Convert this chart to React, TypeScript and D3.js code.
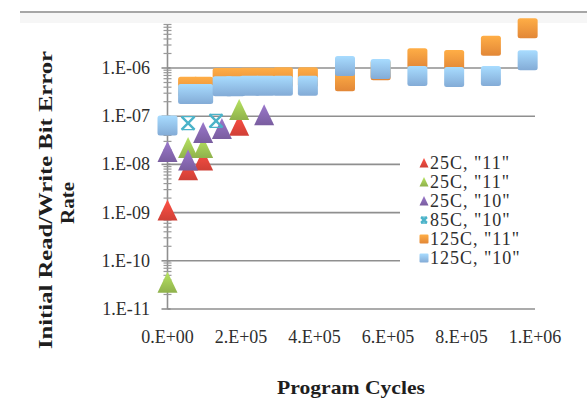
import React from "react";
import * as d3 from "d3";

// ---- data ----
const seriesNames = ['25C, "11"', '25C, "11"', '25C, "10"', '85C, "10"', '125C, "11"', '125C, "10"'];
const seriesColors = ["#e2453b", "#9cc253", "#8466ae", "#4bb3c9", "#f7943c", "#8fbbea"];
const seriesShapes = ["triangle", "triangle", "triangle", "x", "square", "square"];

const red25_11: [number, number][] = [[0, 1.1e-9], [5.6e4, 7.6e-9], [9.7e4, 1.2e-8], [1.95e5, 6.3e-8]];
const green25_11: [number, number][] = [[0, 3.5e-11], [5.6e4, 2.2e-8], [9.7e4, 2.2e-8], [1.95e5, 1.35e-7]];
const purple25_10: [number, number][] = [[0, 1.8e-8], [5.6e4, 1.2e-8], [9.7e4, 4.5e-8], [1.48e5, 5.4e-8], [2.63e5, 1.05e-7]];
const cyan85_10: [number, number][] = [[5.6e4, 7.2e-8], [1.32e5, 8.0e-8]];
const orange125_11: [number, number][] = [
  [5.6e4, 4.1e-7], [9.7e4, 4.1e-7], [1.5e5, 6.2e-7], [1.84e5, 6.2e-7], [2.24e5, 6.3e-7], [2.65e5, 6.3e-7],
  [3.14e5, 6.4e-7], [3.82e5, 6.4e-7], [4.83e5, 5.3e-7], [5.8e5, 9.0e-7], [6.8e5, 1.6e-6], [7.8e5, 1.47e-6],
  [8.8e5, 2.9e-6], [9.8e5, 6.7e-6],
];
const blue125_10: [number, number][] = [
  [0, 6.4e-8], [5.6e4, 2.9e-7], [9.7e4, 2.9e-7], [1.5e5, 4.2e-7], [1.84e5, 4.2e-7], [2.24e5, 4.3e-7],
  [2.65e5, 4.3e-7], [3.14e5, 4.3e-7], [3.82e5, 4.3e-7], [4.83e5, 1.1e-6], [5.8e5, 9.5e-7], [6.8e5, 6.8e-7],
  [7.8e5, 6.5e-7], [8.8e5, 6.8e-7], [9.8e5, 1.45e-6],
];
const allSeries = [red25_11, green25_11, purple25_10, cyan85_10, orange125_11, blue125_10];

const yTickValues = [1e-11, 1e-10, 1e-9, 1e-8, 1e-7, 1e-6];
const yTickLabels = ["1.E-11", "1.E-10", "1.E-09", "1.E-08", "1.E-07", "1.E-06"];
const xTickValues = [0, 2e5, 4e5, 6e5, 8e5, 1e6];
const xTickLabels = ["0.E+00", "2.E+05", "4.E+05", "6.E+05", "8.E+05", "1.E+06"];

const W = 587, H = 399;
const FONT = "'Liberation Serif', 'DejaVu Serif', serif";

export default function App() {
  const x = d3.scaleLinear().domain([0, 1e6]).range([167.5, 535]);
  const y = d3.scaleLog().domain([1e-11, 1e-5]).range([309, 309 - 6 * 48.2]);
  const axisTop = y(8e-6);

  // minor ticks on log axis
  const minor: number[] = [];
  for (let e = -11; e < -5; e++) {
    for (let m = 2; m <= 9; m++) {
      const v = m * Math.pow(10, e);
      if (v <= 8e-6) minor.push(v);
    }
  }

  const legend = { x: 405, y: 150, w: 130, h: 135 };
  const gridEnd = (v: number) => {
    const yy = y(v);
    return yy > legend.y && yy < legend.y + legend.h ? legend.x - 5 : 535;
  };

  const marker = (shape: string, i: number, s: number) => {
    const fill = `url(#g${i})`;
    if (shape === "triangle") {
      return <path d={`M0,${-s * 1.1} L${s},${s} L${-s},${s} Z`} fill={fill} />;
    }
    if (shape === "square") {
      return <rect x={-s} y={-s} width={2 * s} height={2 * s} rx={s * 0.25} fill={fill} />;
    }
    const k = s * 0.65;
    return (
      <g stroke={seriesColors[i]} strokeWidth={2.4} fill="none">
        <path d={`M${-k},${-k} L${k},${k} M${k},${-k} L${-k},${k}`} />
        <path d={`M${-k},${-k} L${k},${-k} M${-k},${k} L${k},${k}`} strokeWidth={1.4} />
      </g>
    );
  };

  return (
    <svg width={W} height={H} style={{ position: "absolute", left: 0, top: 0, background: "#fff" }}>
      <defs>
        {seriesColors.map((c, i) => {
          const col = d3.color(c)!;
          return (
            <linearGradient key={i} id={`g${i}`} x1="0" y1="0" x2="0" y2="1">
              <stop offset="0%" stopColor={col.brighter(0.45).toString()} />
              <stop offset="100%" stopColor={col.darker(0.25).toString()} />
            </linearGradient>
          );
        })}
      </defs>

      {/* top frame line */}
      <line x1={20} x2={587} y1={12} y2={12} stroke="#a6a6a6" strokeWidth={2} />
      <rect x={20} y={13} width={567} height={10} fill="#f6f6f6" />

      {/* gridlines */}
      {yTickValues.slice(1).map((v, i) => (
        <line key={i} x1={x(0)} x2={gridEnd(v)} y1={y(v)} y2={y(v)} stroke="#8f8f8f" strokeWidth={1.6} />
      ))}
      {/* x axis */}
      <line x1={x(0)} x2={535} y1={y(1e-11)} y2={y(1e-11)} stroke="#8f8f8f" strokeWidth={1.6} />
      {/* y axis */}
      <line x1={x(0)} x2={x(0)} y1={axisTop} y2={y(1e-11)} stroke="#8f8f8f" strokeWidth={1.6} />
      {minor.map((v, i) => (
        <line key={i} x1={x(0) - 4} x2={x(0) + 4} y1={y(v)} y2={y(v)} stroke="#9a9a9a" strokeWidth={1.2} />
      ))}
      {yTickValues.map((v, i) => (
        <line key={i} x1={x(0) - 6} x2={x(0) + 3} y1={y(v)} y2={y(v)} stroke="#8f8f8f" strokeWidth={1.6} />
      ))}

      {/* tick labels */}
      {yTickValues.map((v, i) => (
        <text key={i} x={150} y={y(v) + 6} textAnchor="end" fontFamily={FONT} fontSize={18} fill="#2e2e2e">
          {yTickLabels[i]}
        </text>
      ))}
      {xTickValues.map((v, i) => (
        <text key={i} x={x(v)} y={343} textAnchor="middle" fontFamily={FONT} fontSize={18} fill="#2e2e2e">
          {xTickLabels[i]}
        </text>
      ))}

      {/* axis titles */}
      <text x={351} y={394} textAnchor="middle" fontFamily={FONT} fontSize={19} fontWeight="bold" fill="#1e1e1e"
        textLength={148} lengthAdjust="spacingAndGlyphs">
        Program Cycles
      </text>
      <g transform="translate(0,200) rotate(-90)">
        <text x={0} y={52} textAnchor="middle" fontFamily={FONT} fontSize={19} fontWeight="bold" fill="#1e1e1e"
          textLength={298} lengthAdjust="spacingAndGlyphs">
          Initial Read/Write Bit Error
        </text>
        <text x={-3} y={74} textAnchor="middle" fontFamily={FONT} fontSize={19} fontWeight="bold" fill="#1e1e1e"
          textLength={42} lengthAdjust="spacingAndGlyphs">
          Rate
        </text>
      </g>

      {/* legend background */}
      <rect x={legend.x} y={legend.y} width={legend.w} height={legend.h} fill="#fff" />

      {/* data */}
      {allSeries.map((data, i) => (
        <g key={i}>
          {data.map((d, j) => (
            <g key={j} transform={`translate(${x(d[0])},${y(d[1])})`}>
              {marker(seriesShapes[i], i, 10)}
            </g>
          ))}
        </g>
      ))}

      {/* legend */}
      {seriesNames.map((n, i) => {
        const cy = 163 + i * 19;
        return (
          <g key={i}>
            <g transform={`translate(424,${cy})`}>{marker(seriesShapes[i], i, 4.5)}</g>
            <text x={430} y={cy + 6} fontFamily={FONT} fontSize={18} fill="#2e2e2e" letterSpacing={1}>
              {n}
            </text>
          </g>
        );
      })}
    </svg>
  );
}
